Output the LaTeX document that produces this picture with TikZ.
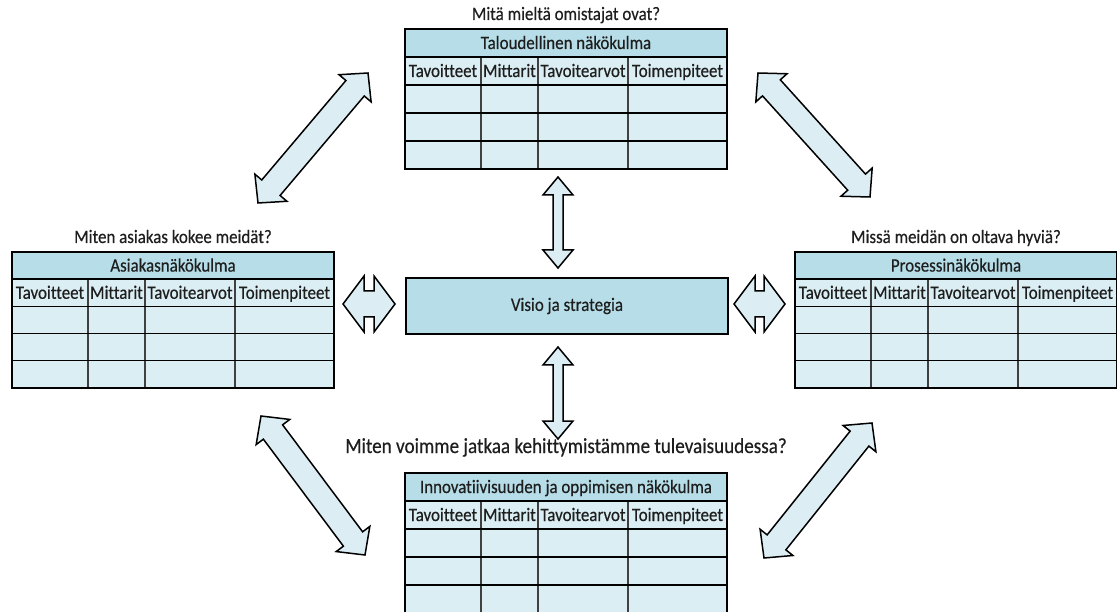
\documentclass[tikz,border=0pt]{standalone}
\usepackage{fontspec}
\setmainfont{Carlito}[Ligatures=NoCommon, FakeStretch=0.89, FakeBold=0.4]
\usetikzlibrary{calc}

\definecolor{cellblue}{HTML}{DAEEF3}
\definecolor{headblue}{HTML}{B7DEE8}
\definecolor{arrowblue}{HTML}{DCEEF4}
\definecolor{inkgray}{HTML}{1E1E1E}

\tikzset{
  x=1pt, y=-1pt,
  txt/.style={font=\fontsize{19}{22}\selectfont, text=inkgray, inner sep=0pt,
    text height=13pt, text depth=1pt},
  frame/.style={draw=black, line width=1.4pt},
  rowline/.style={draw=black, line width=1.4pt},
  colline/.style={draw=black!75, line width=1.2pt},
  visionbox/.style={draw=black, line width=1.4pt, fill=headblue,
    minimum width=322pt, minimum height=56pt, inner sep=0pt,
    font=\fontsize{19}{22}\selectfont, text=inkgray},
  blockarr/.style={draw=black, line width=1.5pt, fill=arrowblue, line join=miter},
}

% Balanced scorecard table: name, left x, top y, row height, title, question, question offset
\newcommand\bsctable[7]{%
  \begin{scope}[shift={(#2,#3)}]
    \fill[cellblue] (0,0) rectangle (322,5*#4);
    \fill[headblue] (0,0) rectangle (322,#4);
    \foreach \cx in {76,133,223}
      \draw[colline] (\cx,#4) -- (\cx,5*#4);
    \foreach \ry in {1,2,3,4}
      \draw[rowline] (0,\ry*#4) -- (322,\ry*#4);
    \draw[frame] (0,0) rectangle (322,5*#4);
    \node[txt] (#1-title) at (161,0.5*#4) {#5};
    \node[txt] (#1-c1) at (38,1.5*#4) {Tavoitteet};
    \node[txt] (#1-c2) at (104.5,1.5*#4) {Mittarit};
    \node[txt] (#1-c3) at (178,1.5*#4) {Tavoitearvot};
    \node[txt] (#1-c4) at (272.5,1.5*#4) {Toimenpiteet};
    \node[txt, anchor=base] (#1-q) at (161,-#7) {#6};
    \coordinate (#1) at (161,2.5*#4);
  \end{scope}%
}

% Outlined double block arrow between two tips: tip A, tip B, head length, head half width, shaft half width
\newcommand\blockarrow[5]{%
  \coordinate (ba-a) at ($(#1)!#3!(#2)$);
  \coordinate (ba-b) at ($(#2)!#3!(#1)$);
  \draw[blockarr] (#1) -- ($(ba-a)!#4!90:(#2)$) -- ($(ba-a)!#5!90:(#2)$)
    -- ($(ba-b)!#5!-90:(#1)$) -- ($(ba-b)!#4!-90:(#1)$) -- (#2)
    -- ($(ba-b)!#4!90:(#1)$) -- ($(ba-b)!#5!90:(#1)$)
    -- ($(ba-a)!#5!-90:(#2)$) -- ($(ba-a)!#4!-90:(#2)$) -- cycle;%
}

\begin{document}
\begin{tikzpicture}
  \useasboundingbox (0,0) rectangle (1117,612);

  % the four perspectives
  \bsctable{finance}{405}{29}{28}{Taloudellinen näkökulma}{Mitä mieltä omistajat ovat?}{9}
  \bsctable{customer}{12}{252}{27.2}{Asiakasnäkökulma}{Miten asiakas kokee meidät?}{9}
  \bsctable{process}{795}{252}{27.2}{Prosessinäkökulma}{Missä meidän on oltava hyviä?}{9}
  \bsctable{learning}{405}{473}{28}{Innovatiivisuuden ja oppimisen näkökulma}{\fontsize{21.5}{24}\selectfont Miten voimme jatkaa kehittymistämme tulevaisuudessa?}{20}

  % vision in the middle
  \node[visionbox] (vision) at (567,306) {Visio ja strategia};

  % arrow end points
  \coordinate (vt1) at (558,177);  \coordinate (vt2) at (558,268);
  \coordinate (vb1) at (558,347);  \coordinate (vb2) at (558,439);
  \coordinate (hl1) at (343,304);  \coordinate (hl2) at (395,304);
  \coordinate (hr1) at (734,304);  \coordinate (hr2) at (785,304);
  \coordinate (dtl1) at (368,73);  \coordinate (dtl2) at (258,203);
  \coordinate (dtr1) at (758,73);  \coordinate (dtr2) at (870,197);
  \coordinate (dbl1) at (261,416); \coordinate (dbl2) at (365,555);
  \coordinate (dbr1) at (872,423); \coordinate (dbr2) at (764,558);

  % vision to the perspectives
  \blockarrow{vt1}{vt2}{18pt}{15pt}{5pt}
  \blockarrow{vb1}{vb2}{18pt}{15pt}{5pt}
  \blockarrow{hl1}{hl2}{21pt}{28pt}{13pt}
  \blockarrow{hr1}{hr2}{21pt}{28pt}{13pt}

  % links between neighbouring perspectives
  \blockarrow{dtl1}{dtl2}{20pt}{21pt}{12pt}
  \blockarrow{dtr1}{dtr2}{20pt}{21pt}{12pt}
  \blockarrow{dbl1}{dbl2}{20pt}{21pt}{12pt}
  \blockarrow{dbr1}{dbr2}{20pt}{21pt}{12pt}
\end{tikzpicture}
\end{document}
